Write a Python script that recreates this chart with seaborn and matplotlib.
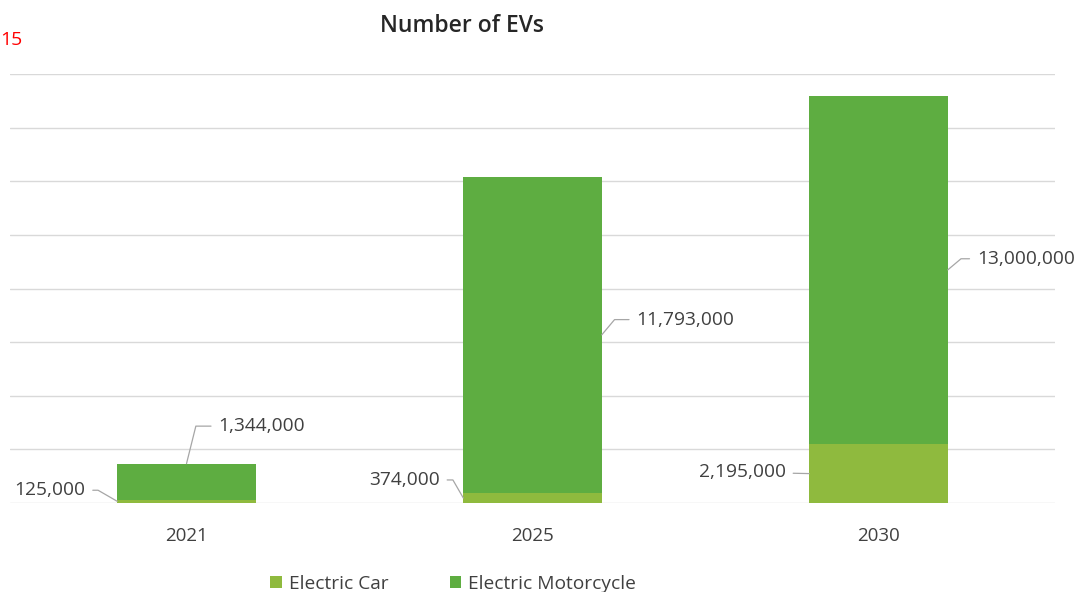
import matplotlib
matplotlib.use("Agg")
import matplotlib.pyplot as plt
import seaborn as sns
import pandas as pd

# ---- data ----
years = ["2021", "2025", "2030"]
electric_car = [125000, 374000, 2195000]
electric_motorcycle = [1344000, 11793000, 13000000]
series_names = ["Electric Car", "Electric Motorcycle"]
title = "Number of EVs"

CAR_COLOR = "#8FBA3E"
MOTO_COLOR = "#5EAD41"
TEXT_COLOR = "#404040"

sns.set_theme(style="white")
plt.rcParams["font.family"] = ["Open Sans", "DejaVu Sans"]

df = pd.DataFrame({
    "year": years,
    "car": electric_car,
    "moto": electric_motorcycle,
})
df["total"] = df["car"] + df["moto"]

fig = plt.figure(figsize=(10.78, 5.92), dpi=100)
ax = fig.add_axes([0.0093, 0.1503, 0.9694, 0.7247])

width = 0.4
sns.barplot(data=df, x="year", y="total", color=MOTO_COLOR, width=width,
            saturation=1, ax=ax, label=series_names[1], zorder=3,
            linewidth=0, edgecolor="none")
sns.barplot(data=df, x="year", y="car", color=CAR_COLOR, width=width,
            saturation=1, ax=ax, label=series_names[0], zorder=3,
            linewidth=0, edgecolor="none")
if ax.get_legend() is not None:
    ax.get_legend().remove()

ax.set_ylim(0, 16000000)
ax.set_xlim(-0.51, 2.51)
ax.set_yticks(range(0, 16000001, 2000000))
ax.set_yticklabels([])
ax.tick_params(axis="y", length=0)
ax.tick_params(axis="x", length=0, labelsize=13.5, labelcolor=TEXT_COLOR, pad=17)
ax.grid(axis="y", color="#D9D9D9", linewidth=1, zorder=0)
ax.set_axisbelow(True)
for s in ax.spines.values():
    s.set_visible(False)
ax.set_xlabel("")
ax.set_ylabel("")


def conn(angle):
    if angle == 0:
        return "arc3,rad=0"
    return f"angle,angleA=0,angleB={angle},rad=0"


# ---- labels with leader lines ----
car_offsets = [(-23, 8), (-17, 13), (-17, 1)]
car_angles = [-30, -60, 0]
moto_offsets = [(23, 27), (25, 11), (21, 8)]
moto_angles = [76, 50, 40]
LABEL_SIZE = 13.8

for i in range(len(years)):
    c = electric_car[i]
    m = electric_motorcycle[i]
    ax.annotate(f"{c:,}", xy=(i - width / 2, c / 2), xycoords="data",
                xytext=car_offsets[i], textcoords="offset points",
                ha="right", va="center", fontsize=LABEL_SIZE, color=TEXT_COLOR,
                arrowprops=dict(arrowstyle="-", color="#A6A6A6", lw=0.9,
                                shrinkA=3, shrinkB=0,
                                connectionstyle=conn(car_angles[i])))
    if i == 0:
        xy = (i, c + m)
    else:
        xy = (i + width / 2, c + m / 2)
    ax.annotate(f"{m:,}", xy=xy, xycoords="data",
                xytext=moto_offsets[i], textcoords="offset points",
                ha="left", va="center", fontsize=LABEL_SIZE, color=TEXT_COLOR,
                arrowprops=dict(arrowstyle="-", color="#A6A6A6", lw=0.9,
                                shrinkA=3, shrinkB=0,
                                connectionstyle=conn(moto_angles[i])))

# ---- legend ----
handles, labels = ax.get_legend_handles_labels()
order = [labels.index(series_names[0]), labels.index(series_names[1])]
leg = fig.legend([handles[k] for k in order], [labels[k] for k in order],
                 loc="center", bbox_to_anchor=(453 / 1078, 1 - 584 / 592),
                 ncol=2, frameon=False, fontsize=13.8, handlelength=0.6,
                 handleheight=0.6, columnspacing=3.2, handletextpad=0.35)
for t in leg.get_texts():
    t.set_color(TEXT_COLOR)

fig.text(462 / 1078, 1 - 26 / 592, title, ha="center", va="center",
         fontsize=16.5, fontweight="semibold", color="#262626")
fig.text(0.0, 1 - 40 / 592, "15", ha="left", va="center", fontsize=14,
         color="#FF0000")

fig.savefig("out.png", dpi=100)
